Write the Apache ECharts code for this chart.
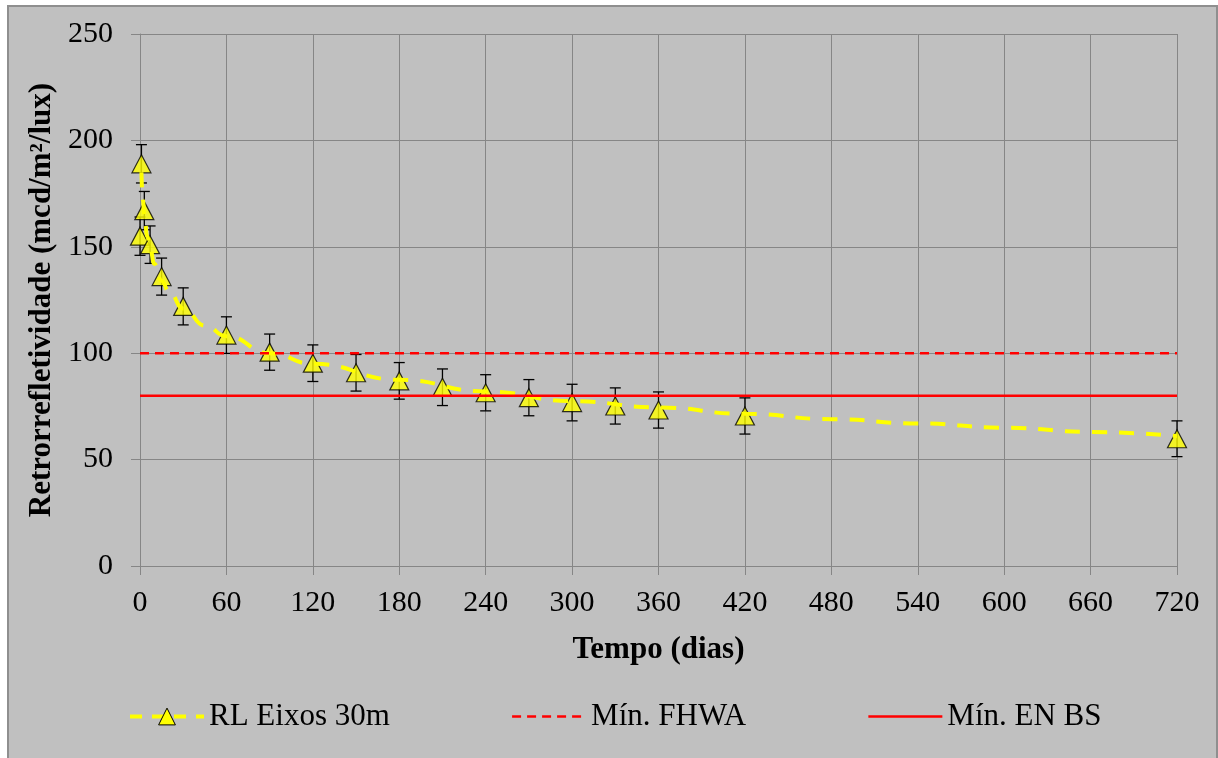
<!DOCTYPE html>
<html>
<head>
<meta charset="utf-8">
<script src="https://cdn.jsdelivr.net/npm/echarts@6/dist/echarts.min.js"></script>
<style>
  html, body { margin: 0; padding: 0; background: #ffffff; }
  #frame {
    position: absolute; left: 7px; top: 5px; width: 1207px; height: 800px;
    background: #c0c0c0; border: 2px solid #8f8f8f;
  }
  #chart { position: absolute; left: 0; top: 0; width: 1218px; height: 758px; }
</style>
</head>
<body>
<div id="frame"></div>
<div id="chart"></div>
<script>
// measured points (days, RL) with error bar half size
const days = [0, 1, 3, 7, 15, 30, 60, 90, 120, 150, 180, 210, 240, 270, 300, 330, 360, 420, 720];
const rlValues = [155, 189, 167, 151, 136, 122, 108.5, 100.5, 95.3, 90.8, 87, 84, 81.4, 79.1, 76.8, 75.2, 73.3, 70.5, 59.8];
const rlErrors = [9, 9, 9, 8.8, 8.7, 8.7, 8.6, 8.5, 8.6, 8.6, 8.6, 8.6, 8.5, 8.5, 8.6, 8.5, 8.5, 8.5, 8.4];

// trend line (dashed yellow)
const trendDays = [1, 2, 3, 5, 7, 10, 15, 20, 30, 45, 60, 90, 120, 180, 240, 300, 360, 420, 480, 540, 600, 660, 720];
const trendValues = [185, 172, 165, 155, 149, 142, 134, 129, 121, 113, 108, 100, 95, 87.5, 82, 77.5, 74.5, 71.5, 69, 67, 65, 63, 61];

// minimum limits
const limitNames = ['Mín. FHWA', 'Mín. EN BS'];
const limitValues = [100, 80];
const xRange = [0, 720];

const SERIES_NAME = 'RL Eixos 30m';
const FONT = '"Liberation Serif", "Times New Roman", serif';

const chart = echarts.init(document.getElementById('chart'));

const points = days.map((d, i) => [d, rlValues[i]]);
const errorData = days.map((d, i) => [d, rlValues[i], rlErrors[i]]);
const trend = trendDays.map((d, i) => [d, trendValues[i]]);

const renderErrorBar = (params, api) => {
  const x = api.value(0);
  const y = api.value(1);
  const e = api.value(2);
  const top = api.coord([x, y + e]);
  const bottom = api.coord([x, y - e]);
  const cap = 5.5;
  const style = { stroke: '#000', lineWidth: 1.3 };
  return {
    type: 'group',
    children: [
      { type: 'line', shape: { x1: top[0], y1: top[1], x2: bottom[0], y2: bottom[1] }, style },
      { type: 'line', shape: { x1: top[0] - cap, y1: top[1], x2: top[0] + cap, y2: top[1] }, style },
      { type: 'line', shape: { x1: bottom[0] - cap, y1: bottom[1], x2: bottom[0] + cap, y2: bottom[1] }, style }
    ]
  };
};

const option = {
  animation: false,
  backgroundColor: 'transparent',
  textStyle: { fontFamily: FONT, color: '#000' },
  grid: { left: 140, top: 34, right: 41, bottom: 192, containLabel: false },
  legend: {
    left: 128,
    top: 701,
    padding: 0,
    itemWidth: 74,
    itemHeight: 21,
    itemGap: 121,
    textStyle: { fontFamily: FONT, fontSize: 31, color: '#000', lineHeight: 30 },
    data: [
      {
        name: SERIES_NAME,
        itemStyle: { color: '#FFFF00', borderColor: '#000', borderWidth: 1 },
        lineStyle: { color: '#FFFF00', width: 4, type: [12, 10] }
      },
      { name: limitNames[0], itemStyle: { opacity: 0 }, lineStyle: { color: '#FF0000', width: 2.5, type: [9, 6] } },
      { name: limitNames[1], itemStyle: { opacity: 0 }, lineStyle: { color: '#FF0000', width: 2.5, type: 'solid' } }
    ]
  },
  xAxis: {
    type: 'value',
    min: 0,
    max: 720,
    interval: 60,
    name: 'Tempo (dias)',
    nameLocation: 'middle',
    nameGap: 68,
    nameTextStyle: { fontFamily: FONT, fontSize: 31, fontWeight: 'bold', color: '#000' },
    axisLine: { show: true, lineStyle: { color: '#868686', width: 1 } },
    axisTick: { show: true, inside: false, length: 9, lineStyle: { color: '#868686' } },
    axisLabel: { fontFamily: FONT, fontSize: 30, color: '#000', margin: 22 },
    splitLine: { show: true, lineStyle: { color: '#868686', width: 1 } }
  },
  yAxis: {
    type: 'value',
    min: 0,
    max: 250,
    interval: 50,
    name: 'Retrorrefletividade (mcd/m²/lux)',
    nameLocation: 'middle',
    nameGap: 80,
    nameTextStyle: { fontFamily: FONT, fontSize: 31, fontWeight: 'bold', color: '#000' },
    axisLine: { show: true, lineStyle: { color: '#868686', width: 1 } },
    axisTick: { show: true, inside: false, length: 9, lineStyle: { color: '#868686' } },
    axisLabel: { fontFamily: FONT, fontSize: 30, color: '#000', margin: 27 },
    splitLine: { show: true, lineStyle: { color: '#868686', width: 1 } }
  },
  series: [
    {
      name: 'errors',
      type: 'custom',
      renderItem: renderErrorBar,
      data: errorData,
      z: 2,
      silent: true
    },
    {
      name: 'points',
      type: 'scatter',
      data: points,
      symbol: 'triangle',
      symbolSize: [19, 18],
      itemStyle: { color: '#FFFF00', borderColor: '#000', borderWidth: 1.2 },
      z: 3
    },
    {
      name: SERIES_NAME,
      type: 'line',
      data: trend,
      smooth: true,
      smoothMonotone: 'x',
      symbol: 'triangle',
      showSymbol: false,
      lineStyle: { color: '#FFFF00', width: 4, type: [15, 12] },
      itemStyle: { color: '#FFFF00' },
      z: 4
    },
    {
      name: limitNames[0],
      type: 'line',
      data: xRange.map((d) => [d, limitValues[0]]),
      symbol: 'none',
      lineStyle: { color: '#FF0000', width: 2.5, type: [9, 6] },
      itemStyle: { color: '#FF0000' },
      z: 5
    },
    {
      name: limitNames[1],
      type: 'line',
      data: xRange.map((d) => [d, limitValues[1]]),
      symbol: 'none',
      lineStyle: { color: '#FF0000', width: 2.5 },
      itemStyle: { color: '#FF0000' },
      z: 5
    }
  ]
};

chart.setOption(option);
</script>
</body>
</html>
